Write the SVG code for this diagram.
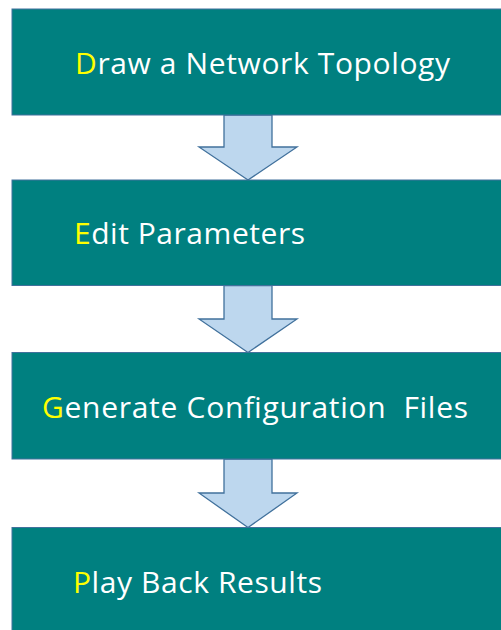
<svg xmlns="http://www.w3.org/2000/svg" width="501" height="630" viewBox="0 0 501 630">
  <style>
    .box { fill: #008080; stroke: #41719C; stroke-width: 1; }
    .arrow { fill: #BDD7EE; stroke: #41719C; stroke-width: 1.3; stroke-linejoin: miter; }
    .label { font-family: "Open Sans", "Noto Sans", sans-serif; font-size: 30px; fill: #FFFFFF; }
    .hl { fill: #FFFF00; }
  </style>
  <rect width="501" height="630" fill="#FFFFFF"/>
  <g id="connectors">
    <polygon class="arrow" points="224,115 272,115 272,147 297,147 248,180 199,147 224,147"/>
    <polygon class="arrow" points="224,285.5 272,285.5 272,319 297,319 248,352.5 199,319 224,319"/>
    <polygon class="arrow" points="224,459 272,459 272,493 297,493 248,527.5 199,493 224,493"/>
  </g>
  <g id="node-draw">
    <rect class="box" x="12" y="9" width="500" height="106"/>
    <text class="label" x="75" y="74" textLength="375"><tspan class="hl">D</tspan>raw a Network Topology</text>
  </g>
  <g id="node-edit">
    <rect class="box" x="12" y="180" width="500" height="105.5"/>
    <text class="label" x="74" y="244" textLength="231"><tspan class="hl">E</tspan>dit Parameters</text>
  </g>
  <g id="node-generate">
    <rect class="box" x="12" y="352.5" width="500" height="106.5"/>
    <text class="label" x="42" y="418" textLength="426" xml:space="preserve"><tspan class="hl">G</tspan>enerate Configuration  Files</text>
  </g>
  <g id="node-play">
    <rect class="box" x="12" y="527.5" width="500" height="110"/>
    <text class="label" x="73" y="593" textLength="249"><tspan class="hl">P</tspan>lay Back Results</text>
  </g>
</svg>
